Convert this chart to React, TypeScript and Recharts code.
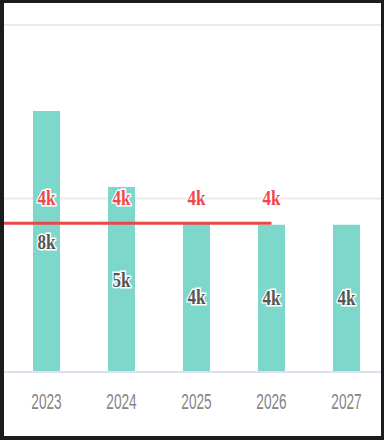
import { ComposedChart, Bar, Line, XAxis, YAxis, CartesianGrid, LabelList } from "recharts";

const years = ["2022", "2023", "2024", "2025", "2026", "2027"];
const barValues = [null, 7520, 5330, 4320, 4240, 4240];
const lineValues = [4290, 4290, 4290, 4290, 4290, null];
const yTicks = [0, 5000, 10000];

// chart is shifted left so the first category sits outside the frame
const SHIFT = 66;

const data = years.map((year, i) => ({ year, bar: barValues[i], line: lineValues[i] }));

const fmtK = (v: number) => `${Math.round(v / 1000)}k`;

function YearTick({ x, y, payload }: any) {
  if (x < SHIFT) return null;
  return (
    <g transform={`translate(${x},${y + 37})`}>
      <text
        x={0}
        y={0}
        textAnchor="middle"
        fill="#858585"
        fontSize={22}
        fontFamily="'Liberation Sans', Arial, sans-serif"
        transform="scale(0.62,1)"
      >
        {payload.value}
      </text>
    </g>
  );
}

function BarValueLabel({ x, y, width, height, value }: any) {
  if (value == null) return null;
  const cx = x + width / 2;
  const cy = y + height / 2 + 7;
  return (
    <g transform={`translate(${cx},${cy})`}>
      <text
        textAnchor="middle"
        fill="#555"
        stroke="#fff"
        strokeWidth={3}
        paintOrder="stroke"
        fontSize={20}
        fontWeight="bold"
        fontFamily="'Liberation Serif', 'Times New Roman', serif"
        transform="scale(0.85,1)"
      >
        {fmtK(value)}
      </text>
    </g>
  );
}

function LineValueLabel({ x, y, value }: any) {
  if (value == null || x < SHIFT) return null;
  return (
    <g transform={`translate(${x},${y - 18})`}>
      <text
        textAnchor="middle"
        fill="#f0464c"
        stroke="#fff"
        strokeWidth={3}
        paintOrder="stroke"
        fontSize={20}
        fontWeight="bold"
        fontFamily="'Liberation Serif', 'Times New Roman', serif"
        transform="scale(0.85,1)"
      >
        {fmtK(value)}
      </text>
    </g>
  );
}

export default function App() {
  return (
    <div
      style={{
        position: "fixed",
        left: 0,
        top: 0,
        width: 384,
        height: 440,
        overflow: "hidden",
        background: "#fff",
      }}
    >
      <div style={{ position: "absolute", left: -SHIFT, top: 0 }}>
        <ComposedChart
          width={450}
          height={440}
          data={data}
          margin={{ top: 25, right: 0, left: 0, bottom: 38 }}
        >
          <CartesianGrid vertical={false} stroke="#ebebeb" strokeWidth={2} />
          <XAxis
            dataKey="year"
            height={30}
            axisLine={{ stroke: "#dbe1f1", strokeWidth: 2 }}
            tickLine={false}
            tickSize={0}
            tickMargin={0}
            tick={<YearTick />}
            interval={0}
          />
          <YAxis hide domain={[0, 10000]} ticks={yTicks} />
          <Bar dataKey="bar" fill="#7dd7cb" barSize={27} isAnimationActive={false}>
            <LabelList dataKey="bar" content={<BarValueLabel />} />
          </Bar>
          <Line
            dataKey="line"
            stroke="#e8474b"
            strokeWidth={3}
            dot={false}
            activeDot={false}
            isAnimationActive={false}
          >
            <LabelList dataKey="line" content={<LineValueLabel />} />
          </Line>
        </ComposedChart>
      </div>
      <div
        style={{
          position: "absolute",
          left: 0,
          top: 0,
          width: 384,
          height: 440,
          boxSizing: "border-box",
          borderStyle: "solid",
          borderColor: "#1c1c1c",
          borderWidth: "3px 3px 4px 4px",
          pointerEvents: "none",
        }}
      />
    </div>
  );
}
